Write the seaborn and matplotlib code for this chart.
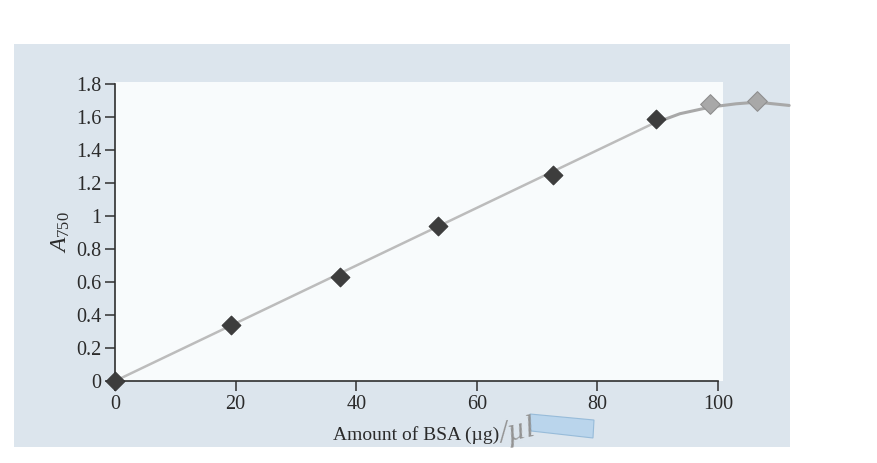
import numpy as np
import pandas as pd
import matplotlib
matplotlib.use("Agg")
import matplotlib.pyplot as plt
from matplotlib.patches import Rectangle, Polygon
import seaborn as sns

# Standard curve: absorbance at 750 nm against amount of BSA
bsa_ug = [0, 19.2, 37.3, 53.5, 72.6, 89.7]
a750 = [0, 0.34, 0.63, 0.94, 1.25, 1.59]

# Readings pencilled in beyond the printed range
extra_bsa = [98.7, 106.5]
extra_a750 = [1.68, 1.70]

# Pencilled continuation of the curve toward saturation
pencil_bsa = [90, 93.7, 98.7, 103, 106.5, 111.8]
pencil_a750 = [1.57, 1.62, 1.66, 1.68, 1.69, 1.67]

x_ticks = [0, 20, 40, 60, 80, 100]
y_ticks = [0, 0.2, 0.4, 0.6, 0.8, 1.0, 1.2, 1.4, 1.6, 1.8]
y_tick_labels = ["0", "0.2", "0.4", "0.6", "0.8", "1", "1.2", "1.4", "1.6", "1.8"]

sns.set_theme(style="ticks")
plt.rcParams["font.family"] = ["Liberation Serif", "DejaVu Serif"]
plt.rcParams["mathtext.fontset"] = "custom"
plt.rcParams["mathtext.rm"] = "Liberation Serif"
plt.rcParams["mathtext.it"] = "Liberation Serif:italic"

W, H = 877, 463
fig = plt.figure(figsize=(W / 100, H / 100), dpi=100, facecolor="white")

# page background and the white panel behind the plot
fig.patches.append(Rectangle((14 / W, 1 - 447 / H), (790 - 14) / W, (447 - 44) / H,
                             transform=fig.transFigure, facecolor="#dce5ed",
                             edgecolor="none", zorder=-2))
fig.patches.append(Rectangle((115 / W, 1 - 381 / H), (723 - 115) / W, (381 - 82) / H,
                             transform=fig.transFigure, facecolor="#f8fbfc",
                             edgecolor="none", zorder=-1))

# highlighter stroke below the axis title
hl = [(530, 414), (594, 420), (593, 438), (531, 431)]
fig.patches.append(Polygon([(x / W, 1 - y / H) for x, y in hl], closed=True,
                           transform=fig.transFigure, facecolor="#b4d3ec",
                           edgecolor="#8fb6d6", linewidth=0.8, alpha=0.85,
                           zorder=-1))

ax = fig.add_axes([115 / W, 1 - 381 / H, (718 - 115) / W, (381 - 84) / H])
ax.set_facecolor("none")
ax.set_zorder(1)

df = pd.DataFrame({"bsa": bsa_ug, "a750": a750})

# least-squares line through the origin
slope = np.sum(np.array(bsa_ug) * np.array(a750)) / np.sum(np.array(bsa_ug) ** 2)
fit = pd.DataFrame({"bsa": [0, 90], "a750": [0, slope * 90]})
sns.lineplot(data=fit, x="bsa", y="a750", ax=ax, color="#bcbcbc", lw=1.8,
             zorder=2)

pencil = pd.DataFrame({"bsa": pencil_bsa, "a750": pencil_a750})
sns.lineplot(data=pencil, x="bsa", y="a750", ax=ax, color="#a8a8a8",
             lw=2.2, zorder=2, sort=False)
for ln in ax.lines:
    ln.set_clip_on(False)

extra = pd.DataFrame({"bsa": extra_bsa, "a750": extra_a750})
sns.scatterplot(data=extra, x="bsa", y="a750", ax=ax, marker="D", s=100,
                color="#a8a8a8", edgecolor="#8f8f8f", linewidth=0.8,
                zorder=3, clip_on=False)

sns.scatterplot(data=df, x="bsa", y="a750", ax=ax, marker="D", s=95,
                color="#3d3d3d", edgecolor="#2e2e2e", linewidth=0.5,
                zorder=4, clip_on=False)

ax.set_xlim(0, 100)
ax.set_ylim(0, 1.8)
ax.set_xticks(x_ticks)
ax.set_yticks(y_ticks)
ax.set_yticklabels(y_tick_labels)

for side in ("top", "right"):
    ax.spines[side].set_visible(False)
for side in ("left", "bottom"):
    ax.spines[side].set_color("#2f2f2f")
    ax.spines[side].set_linewidth(1.2)

ax.tick_params(axis="both", direction="out", length=7, width=1.1,
               color="#2f2f2f", labelsize=14.5, labelcolor="#2b2b2b", pad=3)

ax.set_xlabel("Amount of BSA (µg)", fontsize=14, color="#2b2b2b", labelpad=9)
ax.set_ylabel(r"$\mathit{A}_{750}$", fontsize=17, color="#2b2b2b", labelpad=3)

# pencil note after the axis title
fig.text(496 / W, 1 - 432 / H, "/µl", fontsize=23, style="italic",
         color="#939393", ha="left", va="center", rotation=12)

fig.savefig("out.png", dpi=100, facecolor="white")
